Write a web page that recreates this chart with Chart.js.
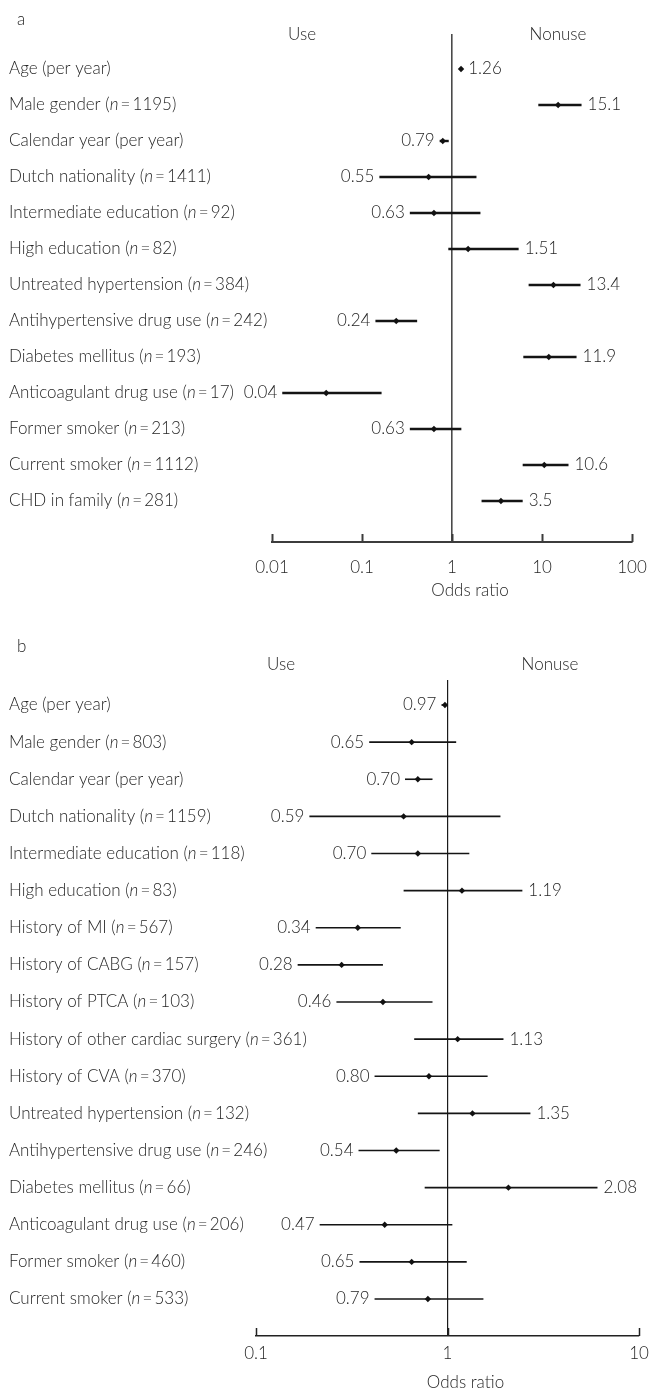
<!DOCTYPE html>
<html>
<head>
<meta charset="utf-8">
<script src="https://cdn.jsdelivr.net/npm/chart.js@4.4.1/dist/chart.umd.min.js"></script>
<style>
  html, body { margin: 0; padding: 0; background: #ffffff; }
  canvas { display: block; }
</style>
</head>
<body>
<canvas id="chartA" width="651" height="610"></canvas>
<canvas id="chartB" width="651" height="781"></canvas>
<script>
// ---- Panel a: odds ratios with 95% confidence intervals ----
const factorsA = ['Age (per year)', 'Male gender', 'Calendar year (per year)', 'Dutch nationality',
  'Intermediate education', 'High education', 'Untreated hypertension', 'Antihypertensive drug use',
  'Diabetes mellitus', 'Anticoagulant drug use', 'Former smoker', 'Current smoker', 'CHD in family'];
const countsA = [null, 1195, null, 1411, 92, 82, 384, 242, 193, 17, 213, 1112, 281];
const oddsA  = [1.26, 15.1, 0.79, 0.55, 0.63, 1.51, 13.4, 0.24, 11.9, 0.04, 0.63, 10.6, 3.5];
const lowerA = [1.22, 9.1, 0.73, 0.156, 0.34, 0.91, 7.1, 0.141, 6.2, 0.013, 0.34, 6.1, 2.13];
const upperA = [1.30, 27.5, 0.92, 1.87, 2.07, 5.5, 26.8, 0.41, 24.2, 0.165, 1.27, 19.7, 6.1];
const ticksA = [0.01, 0.1, 1, 10, 100];
const tickTextA = ['0.01', '0.1', '1', '10', '100'];

// ---- Panel b ----
const factorsB = ['Age (per year)', 'Male gender', 'Calendar year (per year)', 'Dutch nationality',
  'Intermediate education', 'High education', 'History of MI', 'History of CABG', 'History of PTCA',
  'History of other cardiac surgery', 'History of CVA', 'Untreated hypertension',
  'Antihypertensive drug use', 'Diabetes mellitus', 'Anticoagulant drug use', 'Former smoker',
  'Current smoker'];
const countsB = [null, 803, null, 1159, 118, 83, 567, 157, 103, 361, 370, 132, 246, 66, 206, 460, 533];
const oddsB  = [0.97, 0.65, 0.70, 0.59, 0.70, 1.19, 0.34, 0.28, 0.46, 1.13, 0.80, 1.35, 0.54, 2.08, 0.47, 0.65, 0.79];
const lowerB = [0.93, 0.39, 0.60, 0.19, 0.40, 0.59, 0.205, 0.165, 0.263, 0.67, 0.416, 0.70, 0.343, 0.76, 0.215, 0.347, 0.416];
const upperB = [0.99, 1.11, 0.835, 1.89, 1.30, 2.46, 0.57, 0.46, 0.835, 1.96, 1.62, 2.71, 0.91, 6.07, 1.06, 1.26, 1.54];
const ticksB = [0.1, 1, 10];
const tickTextB = ['0.1', '1', '10'];

const TEXT = '#262626';
const FAMILY = 'Lato, "Open Sans", sans-serif';
const font = (size, style) => (style ? style + ' ' : '') + '300 ' + size + 'px ' + FAMILY;

// Draws factor names, value labels, headers, upward tick marks and the axis title
function forestText(cfg) {
  return {
    id: 'forestText',
    afterDraw(chart) {
      const { ctx, chartArea } = chart;
      const xs = chart.scales.x, ys = chart.scales.y;
      ctx.save();
      ctx.fillStyle = TEXT;
      ctx.textBaseline = 'middle';

      // panel letter and column headers
      ctx.font = font(cfg.fontSize);
      ctx.textAlign = 'left';
      ctx.fillText(cfg.letter, cfg.letterX, cfg.letterY);
      ctx.textAlign = 'center';
      ctx.fillText('Use', cfg.useX, cfg.headY);
      ctx.fillText('Nonuse', cfg.nonuseX, cfg.headY);

      // factor names with italic n
      ctx.textAlign = 'left';
      cfg.names.forEach((name, i) => {
        const py = ys.getPixelForValue(i);
        let px = cfg.nameX;
        ctx.font = font(cfg.fontSize);
        if (cfg.counts[i] == null) {
          ctx.fillText(name, px, py);
          return;
        }
        const head = name + ' (';
        ctx.fillText(head, px, py);
        px += ctx.measureText(head).width;
        ctx.font = font(cfg.fontSize, 'italic');
        ctx.fillText('n', px, py);
        px += ctx.measureText('n').width;
        ctx.font = font(cfg.fontSize);
        const tail = '\u2009=\u2009' + cfg.counts[i] + ')';
        ctx.fillText(tail, px, py);
      });

      // odds ratio values beside each interval
      ctx.font = font(cfg.fontSize);
      cfg.odds.forEach((v, i) => {
        const py = ys.getPixelForValue(i);
        const txt = cfg.format(v);
        if (v < 1) {
          ctx.textAlign = 'right';
          ctx.fillText(txt, xs.getPixelForValue(cfg.lower[i]) - cfg.gapLeft, py);
        } else {
          ctx.textAlign = 'left';
          ctx.fillText(txt, xs.getPixelForValue(cfg.upper[i]) + cfg.gapRight, py);
        }
      });

      // tick marks pointing up from the axis
      ctx.strokeStyle = cfg.axisColor;
      ctx.lineWidth = cfg.axisWidth;
      xs.ticks.forEach(t => {
        const px = Math.round(xs.getPixelForValue(t.value)) + 0.5;
        ctx.beginPath();
        ctx.moveTo(px, chartArea.bottom);
        ctx.lineTo(px, chartArea.bottom - 8);
        ctx.stroke();
      });

      // axis title
      ctx.textAlign = 'center';
      ctx.font = font(cfg.fontSize);
      ctx.fillText('Odds ratio', (chartArea.left + chartArea.right) / 2 + cfg.titleShift, cfg.titleY);
      ctx.restore();
    }
  };
}

function buildForest(canvasId, d, lay) {
  const ciSets = d.odds.map((_, i) => ({
    type: 'scatter',
    showLine: true,
    data: [{ x: d.lower[i], y: i }, { x: d.upper[i], y: i }],
    borderColor: '#141414',
    borderWidth: lay.ciWidth,
    pointRadius: 0,
    order: 2
  }));
  const markerSet = {
    type: 'scatter',
    data: d.odds.map((v, i) => ({ x: v, y: i })),
    pointStyle: 'rectRot',
    pointRadius: 3.2,
    backgroundColor: '#111111',
    borderWidth: 0,
    order: 1
  };
  const n = d.odds.length;
  const yMin = -(lay.firstRow - lay.top) / lay.step;
  const yMax = (n - 1) + (lay.bottom - (lay.firstRow + (n - 1) * lay.step)) / lay.step;
  const canvas = document.getElementById(canvasId);

  return new Chart(canvas, {
    type: 'scatter',
    data: { datasets: [...ciSets, markerSet] },
    options: {
      responsive: false,
      animation: false,
      events: [],
      layout: { padding: { left: lay.left, right: canvas.width - lay.right, top: lay.top, bottom: 0 } },
      plugins: { legend: { display: false }, tooltip: { enabled: false } },
      scales: {
        x: {
          type: 'logarithmic',
          min: d.ticks[0],
          max: d.ticks[d.ticks.length - 1],
          afterBuildTicks: s => { s.ticks = d.ticks.map(v => ({ value: v })); },
          afterFit: s => {
            s.height = canvas.height - lay.bottom;
            s.paddingLeft = 0;
            s.paddingRight = 0;
          },
          border: { display: true, color: lay.axisColor, width: lay.axisWidth },
          grid: {
            drawTicks: false,
            lineWidth: lay.refWidth,
            color: c => (c.tick && c.tick.value === 1 ? lay.refColor : 'rgba(0,0,0,0)')
          },
          ticks: {
            padding: lay.tickPad,
            color: TEXT,
            font: { family: FAMILY, size: lay.fontSize, weight: 300 },
            maxRotation: 0,
            autoSkip: false,
            callback: (v, i) => d.tickText[i]
          }
        },
        y: {
          type: 'linear',
          display: false,
          reverse: true,
          min: yMin,
          max: yMax
        }
      }
    },
    plugins: [forestText({
      names: d.names, counts: d.counts, odds: d.odds, lower: d.lower, upper: d.upper,
      format: d.format, fontSize: lay.fontSize,
      letter: lay.letter, letterX: 17, letterY: lay.letterY,
      useX: lay.useX, nonuseX: lay.nonuseX, headY: lay.headY,
      nameX: 9, gapLeft: 5, gapRight: 6,
      axisColor: lay.axisColor, axisWidth: lay.axisWidth,
      titleY: lay.titleY, titleShift: lay.titleShift
    })]
  });
}

buildForest('chartA',
  { names: factorsA, counts: countsA, odds: oddsA, lower: lowerA, upper: upperA,
    ticks: ticksA, tickText: tickTextA, format: v => String(v) },
  { letter: 'a', letterY: 20, useX: 302, nonuseX: 558, headY: 35,
    left: 272, right: 632, top: 34, bottom: 542, firstRow: 69, step: 36,
    ciWidth: 2.4, axisColor: '#3c3c3c', axisWidth: 2, refColor: '#4a4a4a', refWidth: 1.6,
    tickPad: 15, fontSize: 17, titleY: 591, titleShift: 18 });

buildForest('chartB',
  { names: factorsB, counts: countsB, odds: oddsB, lower: lowerB, upper: upperB,
    ticks: ticksB, tickText: tickTextB, format: v => v.toFixed(2) },
  { letter: 'b', letterY: 37, useX: 281, nonuseX: 550, headY: 55,
    left: 256, right: 639, top: 70, bottom: 726, firstRow: 95, step: 37.125,
    ciWidth: 1.6, axisColor: '#222222', axisWidth: 1.5, refColor: '#1a1a1a', refWidth: 1.2,
    tickPad: 7, fontSize: 17, titleY: 773, titleShift: 18 });
</script>
</body>
</html>
